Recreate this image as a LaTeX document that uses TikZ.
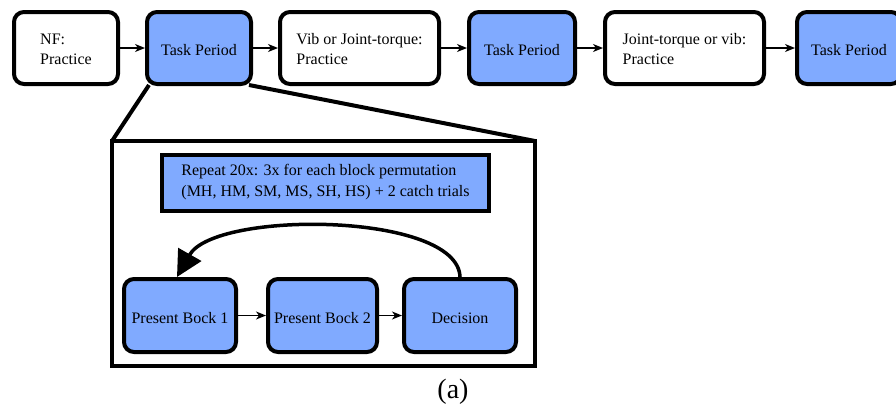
\documentclass[tikz,border=0pt]{standalone}
\usepackage{fontspec}
\setmainfont{Liberation Serif}
\usetikzlibrary{arrows.meta}
\definecolor{boxblue}{RGB}{128,170,255}
\tikzset{
  base/.style={draw=black, line width=4pt, rounded corners=10pt,
    font=\fontsize{16}{20}\selectfont, inner sep=0pt},
  plainbox/.style={base, fill=white, align=left},
  bluebox/.style={base, fill=boxblue, align=center, text height=14pt, text depth=0pt},
  flow/.style={line width=1.5pt, -{Stealth[length=10pt,width=8pt,inset=3pt]}},
  zoomline/.style={line width=4pt},
}
\begin{document}
\begin{tikzpicture}[x=1pt,y=-1pt]
\useasboundingbox (0,0) rectangle (896,410);

% top row of the schedule
\node[plainbox, minimum width=104pt, minimum height=72pt] (nf) at (66,48) {\strut NF:\\Practice};
\node[bluebox, minimum width=104pt, minimum height=72pt] (tp1) at (199,48) {Task Period};
\node[plainbox, minimum width=159pt, minimum height=72pt] (vib) at (359.5,48) {\strut Vib or Joint-torque:\\Practice};
\node[bluebox, minimum width=106pt, minimum height=72pt] (tp2) at (522,48) {Task Period};
\node[plainbox, minimum width=159pt, minimum height=72pt] (jt) at (684.5,48) {\strut Joint-torque or vib:\\Practice};
\node[bluebox, minimum width=104pt, minimum height=72pt] (tp3) at (849,48) {Task Period};

\draw[flow] (nf) -- (tp1);
\draw[flow] (tp1) -- (vib);
\draw[flow] (vib) -- (tp2);
\draw[flow] (tp2) -- (jt);
\draw[flow] (jt) -- (tp3);

% expanded view of one task period
\node[draw=black, line width=4pt, fill=white, minimum width=423pt, minimum height=225pt,
  inner sep=0pt, outer sep=0pt] (frame) at (323.5,253.5) {};
\draw[zoomline] (tp1.south west) ++(4,-1) -- (frame.north west);
\draw[zoomline] (tp1.south east) ++(-4,-1) -- (frame.north east);

\node[draw=black, line width=4pt, fill=boxblue, minimum width=327pt, minimum height=56pt,
  inner sep=0pt, align=left, font=\fontsize{16}{21}\selectfont] (rep) at (325.5,182.5)
  {Repeat 20x: 3x for each block permutation\\(MH, HM, SM, MS, SH, HS) + 2 catch trials};

\node[bluebox, minimum width=112pt, minimum height=73pt, text height=15pt] (pb1) at (180,315.5) {Present Bock 1};
\node[bluebox, minimum width=109pt, minimum height=73pt, text height=15pt] (pb2) at (322.5,315.5) {Present Bock 2};
\node[bluebox, minimum width=112pt, minimum height=73pt, text height=15pt] (dec) at (460,315.5) {Decision};

\draw[flow] (pb1) -- (pb2);
\draw[flow] (pb2) -- (dec);
\draw[line width=3.5pt, -{Triangle[length=26pt,width=26pt]}]
  (dec.north) .. controls (458,212) and (215,210) .. ([xshift=-3pt]pb1.north);

\node[font=\fontsize{28}{32}\selectfont] (cap) at (453,392) {(a)};
\end{tikzpicture}
\end{document}
